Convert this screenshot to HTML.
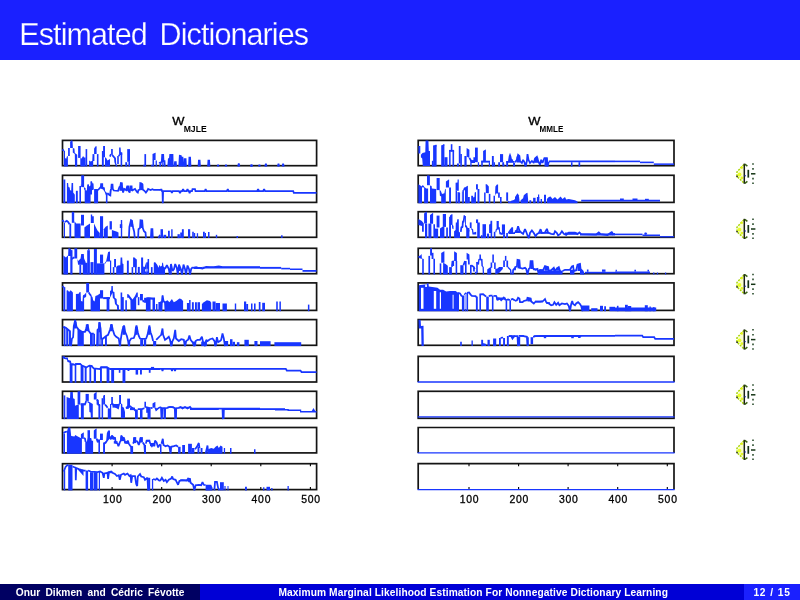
<!DOCTYPE html>
<html lang="en">
<head>
<meta charset="utf-8">
<title>Estimated Dictionaries</title>
<style>
html,body{margin:0;padding:0;background:#fff;}
body{width:800px;height:600px;overflow:hidden;position:relative;font-family:"Liberation Sans",sans-serif;}
#titlebar{position:absolute;left:0;top:0;width:800px;height:59.6px;background:#1a20ff;}
#titlebar h1{position:absolute;left:19.3px;top:16px;margin:0;font-weight:normal;font-size:30.5px;line-height:36px;color:#fff;white-space:nowrap;letter-spacing:-0.9px;word-spacing:5.2px;-webkit-text-stroke:0.25px #1a20ff;}
#foot{position:absolute;left:0;top:583.7px;width:800px;height:16.3px;color:#fff;font-size:10.2px;line-height:17.6px;white-space:nowrap;}
#foot div{position:absolute;top:0;height:16.3px;text-align:center;overflow:hidden;font-weight:bold;}
#foot span{display:inline-block;}
#f1{left:0;width:200px;background:#000062;}
#f2{left:200px;width:544px;background:#0000d6;}
#f3{left:744px;width:56px;background:#1a20ff;}
svg{position:absolute;left:0;top:0;}
svg text{font-family:"Liberation Sans",sans-serif;fill:#000;}
</style>
</head>
<body>
<div id="titlebar"><h1>Estimated Dictionaries</h1></div>

<svg width="800" height="600" viewBox="0 0 800 600">
<text x="172.3" y="124.9" font-size="10.3" stroke="#000" stroke-width="0.3" textLength="12.2" lengthAdjust="spacingAndGlyphs">W</text>
<text x="183.7" y="132" font-size="9.9" font-weight="bold" textLength="23" lengthAdjust="spacingAndGlyphs">MJLE</text>
<text x="528.3" y="124.9" font-size="10.3" stroke="#000" stroke-width="0.3" textLength="12.2" lengthAdjust="spacingAndGlyphs">W</text>
<text x="539.6" y="132" font-size="9.9" font-weight="bold" textLength="23.8" lengthAdjust="spacingAndGlyphs">MMLE</text>
<g fill="none" stroke="#141414" stroke-width="1.7">
<rect x="62.5" y="140.4" width="254.1" height="25.3"/>
<rect x="62.5" y="175.3" width="254.1" height="27.1"/>
<rect x="62.5" y="211.7" width="254.1" height="25.6"/>
<rect x="62.5" y="248.3" width="254.1" height="25.4"/>
<rect x="62.5" y="282.9" width="254.1" height="27.5"/>
<rect x="62.5" y="319.6" width="254.1" height="25.7"/>
<rect x="62.5" y="356.3" width="254.1" height="25.7"/>
<rect x="62.5" y="391.3" width="254.1" height="27"/>
<rect x="62.5" y="427.5" width="254.1" height="25.4"/>
<rect x="62.5" y="463.7" width="254.1" height="25.9"/>
<rect x="418.2" y="140.4" width="255.8" height="25.3"/>
<rect x="418.2" y="175.3" width="255.8" height="27.1"/>
<rect x="418.2" y="211.7" width="255.8" height="25.6"/>
<rect x="418.2" y="248.3" width="255.8" height="25.4"/>
<rect x="418.2" y="282.9" width="255.8" height="27.5"/>
<rect x="418.2" y="319.6" width="255.8" height="25.7"/>
<path d="M418.2,382 V356.3 H674 V382"/>
<rect x="418.2" y="391.3" width="255.8" height="27"/>
<path d="M418.2,452.9 V427.5 H674 V452.9"/>
<path d="M418.2,489.6 V463.7 H674 V489.6"/>
</g>
<g stroke="#000" stroke-width="1.1">
<path d="M112.1,463.7 v2.6 M112.1,489.6 v-2.6"/>
<path d="M161.7,463.7 v2.6 M161.7,489.6 v-2.6"/>
<path d="M211.2,463.7 v2.6 M211.2,489.6 v-2.6"/>
<path d="M260.8,463.7 v2.6 M260.8,489.6 v-2.6"/>
<path d="M310.4,463.7 v2.6 M310.4,489.6 v-2.6"/>
<path d="M469,463.7 v2.6 M469,489.6 v-2.6"/>
<path d="M518.6,463.7 v2.6 M518.6,489.6 v-2.6"/>
<path d="M568.1,463.7 v2.6 M568.1,489.6 v-2.6"/>
<path d="M617.7,463.7 v2.6 M617.7,489.6 v-2.6"/>
<path d="M667.3,463.7 v2.6 M667.3,489.6 v-2.6"/>
</g>
<g fill="none" stroke="#1836ff" stroke-width="1.75" stroke-linejoin="miter" stroke-miterlimit="2">
<path d="M62.5,149.4 L63.9,151"/>
<path d="M110,156.6 L110.9,154.1"/>
<path d="M118.8,156.1 L119.4,154.8"/>
<path d="M159.4,163.5 L160,162.2"/>
<path d="M160,166.5 L160.8,162.5 L161.8,161.6 L162.2,154.8 L163.2,154.8 L163.5,161 L164.5,161 L164.8,166.5 M168.2,166.5 L168.8,159.2 L169.8,159.2 L170.2,154.8 L172.5,154.8 L172.8,166.5 M174.6,166.5 L175,162.2 L175.8,162.2 L176.1,166.5 M179.2,166.5 L179.8,155.8 L180.8,156 L181.2,157.5 L182.5,157.5 L182.8,166.5 M184.2,166.5 L184.6,159.2 L185.6,159.2 L186,166.5 M189,166.5 L189.4,157.6 L190.1,157.6 L190.5,166.5 M198.5,166.5 L198.9,160.5 L199.6,160.5 L200,166.5 M208,166.5 L208.4,160.5 L209.1,160.5 L209.5,166.5 M217.6,166.5 L218.1,164.8 L218.6,166.5 M225.5,166.5 L226,164.8 L226.5,166.5 M238.1,166.5 L238.8,163.5 L239.4,166.5 M251,166.5 L251.5,164.8 L252,166.5"/>
<path d="M251,166.5 L251.5,164.8 L252,166.5 M258.9,166.5 L259.4,164.8 L259.9,166.5 M265.2,166.5 L265.9,163.6 L266.5,166.5 M277.9,166.5 L278.5,163.6 L279.1,166.5 M282.5,166.5 L283.1,163.6 L283.8,166.5"/>
<path d="M80.9,185.6 L81.6,185.4"/>
<path d="M107.5,193.2 L110,195.5"/>
<path d="M110,195.8 L110.6,190.8 L111.2,188.9 L111.6,184.5 L112.5,184.5 L112.8,188.9 L113.8,190.5 L118.1,190.8 L119.4,187 L120.3,186.4 L120.9,183 L121.9,183.2 L122.2,188.2 L123.1,192.6 L124.1,188.9 L126.2,190.1 L127.2,186.4 L128.1,186.4 L128.4,190.8 L129.7,192.6 L130.3,186.4 L131.6,186.4 L131.9,190.8 L133.8,189.5 L135,188.9 L136.9,192 L137.8,192.6 L138.4,190.1 L140,189.5 L140.3,183 L141.2,183.2 L142.5,184.5 L142.8,189.5 L144.4,190.8 L145.9,192.6 L147.2,190.8 L148.1,188.9 L149.4,189.5 L150.6,190.1 L152.5,189.2 L153.8,189.9 L160,189.9"/>
<path d="M160,190.5 L160.8,189.5 L161.5,189.5 L162,191 L162.5,191 L162.8,203.2 L163.1,191 L171,191 L171.9,193 L172.8,191 L179,191 L180,193 L181,191 L182.2,191 L183.1,189.2 L184,191 L186.6,191 L187.5,189.2 L188.4,191 L188.9,191 L189.6,193.2 L190.4,191 L192,191 L192.5,189.2 L195,189.2 L195.5,191 L204.8,191 L205.6,189.2 L206.5,191 L226.9,191 L227.8,189.2 L228.6,191 L257.2,191 L258.1,189.2 L259,191 L260,191"/>
<path d="M260,191 L263.2,191 L264.1,189.2 L265,191 L293.2,191 L293.8,192.8 L316.5,192.8"/>
<path d="M62.5,219.9 L63.9,222"/>
<path d="M65,222 L66.8,220.8 L68.2,222 L69.5,224.2"/>
<path d="M128.9,238.1 L129.4,226.8 L131,220.2 L132,220.8 L132.5,224.5 L133.2,228 L134.2,231.8 L134.8,238.1"/>
<path d="M138.1,238.1 L138.5,229.2 L140,228 L140.5,220.2 L142.2,220.5 L142.8,228 L144,231.2 L145.5,232.5 L146,238.1"/>
<path d="M150.9,238.1 L151.4,229.2 L152.4,229.2 L152.8,238.1"/>
<path d="M158.5,238.1 L160,234.8"/>
<path d="M71.6,259 L74.4,257.2"/>
<path d="M165,269 L166.9,265.2 L168.8,269 L169.8,274.5 L171,264 L172.5,270.9 L174,269 L175.2,264 L176.8,267.8 L177.8,274.5 L179,264.6 L180.8,269 L182,274.5 L183.5,264.6 L185,269 L186,274.5 L187.5,265.5 L189,269 L190,274.5 L191.2,269 L192.8,267.2"/>
<path d="M192.8,267.8 L196.2,267.2 L198.8,268 L202.5,268.5 L206.2,266.8 L210,267.2 L213.8,267 L218.8,266.5 L222.5,267.2 L260,267.2"/>
<path d="M62.5,286.2 L63.8,287.5"/>
<path d="M88.8,292.5 L90,294.6 L91.2,295.9"/>
<path d="M142.8,300.2 L143.8,302.1"/>
<path d="M146.2,298 L155,299"/>
<path d="M161.5,311.2 L161.8,302.8 L162.5,295.5 L163.5,300.9 L165,302.8 L165.5,311.2"/>
<path d="M62.8,327.5 L64.2,327 L66.2,328 L68.2,329.8 L70,331.2 L70.2,346.1"/>
<path d="M71,346.1 L71.9,338.8 L73.1,337.2 L73.8,326.2 L75.2,320 L76.5,326.8 L78.8,329.8 L81.9,331.8 L85,331.8 L86.2,328.5 L87.5,324.2 L88.8,331 L90.6,333.5 L93.8,333.5"/>
<path d="M97,346.1 L97.5,329.8 L98.8,328.5 L99.4,322.2 L100.6,328.5 L101.2,338.5 L103.1,338.5 L106.2,336 L108.1,334.8 L110,329.8 L111.5,324.2 L112.8,329.8 L114.4,334.8 L116.2,336.8 L118.8,338.5 L119.8,346.1"/>
<path d="M120.2,346.1 L120.5,341 L121.5,334.8 L122.5,329.8 L124,325.5 L125.2,332.2 L126.9,336 L128.1,341 L128.8,346.1"/>
<path d="M129.1,346.1 L129.5,341 L131.2,338.5 L133.8,338 L135,334.8 L135.8,328.5 L136.5,325.5 L137.8,332.2 L138.8,336 L140,338.5 L142.5,338.8 L146.2,338.5 L147.5,334.8 L148.5,329.8 L149.4,325.5 L150.5,332.2 L151.9,336 L153.1,341"/>
<path d="M156.2,339.8 L160,336"/>
<path d="M160,336 L161.2,334.8 L162.5,328.5 L163.1,334.8 L165,339.8 L166.9,338.5 L168.8,336.8 L170,339.8 L171.2,346.1 L172.5,341 L173.8,338.5 L175.2,329.8 L176,338.5 L178.8,341 L181.2,339.2 L183.8,339.8 L185,346.1 L186.2,341 L188.1,339.8 L189.4,335.5 L190.6,339.8 L192.5,342.2 L194.4,346.1 L195.6,341 L197.5,339.8 L200,339.8 L201.9,336.8 L203.1,342.2 L205,346.1 L206.2,339.8 L207.5,341 L210,339.2 L212.5,338.5 L214.4,341 L215.6,346.1 L216.9,337.2 L218.1,342.2 L220,341 L221.2,339.8 L222.5,333.5 L223.8,338.5 L225,346.1"/>
<path d="M72.5,364.2 L75,364.8 L76.9,363.9 L80,363.9 L81.9,365.5 L86.2,367.4 L89.4,365.6 L91.2,365.9 L93.8,368.4 L100,369 L101.2,367.2 L106.9,367.2 L109.4,368.9 L110,369"/>
<path d="M160,368.8 L161.8,368.8 L162.5,371 L163.2,368.8 L171.2,368.8 L172,371 L172.8,368.8 L174.2,368.8 L175,371 L175.8,368.8 L260,368.8"/>
<path d="M260,368.8 L285.8,368.8 L286.8,370.5 L300.5,370.5 L301.5,372 L316.5,372"/>
<path d="M85,404.6 L86.2,400.9"/>
<path d="M96.6,399.6 L97.9,400.5 L98.2,404.6 L99.8,405.1"/>
<path d="M105,404.5 L106.2,405.8 L107.6,407.8"/>
<path d="M111.2,404.1 L112.8,404.1 L113.8,405.8 L116.2,407 L118.1,408.2 L118.8,405.1 L119.4,404"/>
<path d="M125.9,407.8 L127.5,407.1 L127.9,405.8"/>
<path d="M130,405.9 L131.2,407.1 L133.8,408.9 L135.6,410.8 L136.2,412"/>
<path d="M137.8,409 L141.2,409 L142.5,408.9 L144.4,408.2"/>
<path d="M145.9,407.1 L148.8,407.8"/>
<path d="M150.6,408.2 L152.5,407.8"/>
<path d="M155.3,407.8 L156.2,410.1 L157.5,408.9 L160,407.1"/>
<path d="M160,407 L161,407.8 L161.5,419.1 M162,419.1 L162.2,408.2 L164.2,408.2 L164.5,419.1 M165,419.1 L165.2,408.2 L167.5,407.8 L170,406.8 L172.5,407.2 L174.8,408.2 L175.2,419.1 M176,419.1 L176.2,408.2 L178.8,407.8 L180.6,407 L182.5,408.5 L185,407 L187.5,408.5 L190,407 L191.2,408.5 L222.5,408.5 L222.9,419.1 M223.6,419.1 L223.9,408.5 L260,408.5"/>
<path d="M312.5,411.5 L313.5,409.8 L314.5,411.5"/>
<path d="M63.4,433 L65,432.1 L66.9,431.5"/>
<path d="M83.8,438 L85,438.6 L85.6,441.8"/>
<path d="M96.6,438.6 L97.5,441.1 L98.5,441.8"/>
<path d="M110,439.2 L111.2,438 L111.9,435.5 L112.8,436.8 L113.8,438.6 L115,437.4 L115.6,442.4 L117.5,443.6 L118.4,446.1 L119.4,443.6 L120,441.8 L120.9,440.5 L121.2,435.5 L122.5,437.4 L124.4,439.2 L125,442.4 L126.9,443 L127.8,440.5 L128.8,443.6 L130,445.5 L131.2,446.8 L131.6,453.7"/>
<path d="M133.1,443.6 L133.8,441.8 L134.1,437.5"/>
<path d="M136.2,440.6 L137.5,441.8 L138.8,444.9 L139.7,442.4 L140.4,437.5"/>
<path d="M142.8,442.5 L144.4,444.9 L145,453.7"/>
<path d="M145.9,443.6 L146.6,440.6 L149.4,440.6 L150,443 L151.9,446.1 L153.1,444.2 L154.4,446.1 L155,440.6 L156.6,442.4 L158.1,447.4 L160,444.2"/>
<path d="M161.5,443.8 L162.8,438.8 L163.5,445 L165.6,446.2 L167.5,445.5 L169.4,446.8 L170.6,453.7 L171.2,446.8 L173.8,446.2 L176.2,445.5 L178.1,446.8"/>
<path d="M195,449.2 L196.9,446.8 L198.8,443 L199.5,448"/>
<path d="M205.6,453.7 L207.5,445.5 L208.2,453.7"/>
<path d="M63.8,471.5 L65.6,466.8 L67.5,465.2 L68.2,464.8"/>
<path d="M72.5,466.5 L74.4,467.2 L75.6,467.8 L75.8,480.2 L76.2,468 L78.8,469 L81.2,469.8 L83.8,470.5 L85.6,470.5"/>
<path d="M88.1,470.5 L90.6,471.5 L97.5,472 L100,471.5 L102.5,472.8 L103.8,477.8 L104.4,473.5 L107.5,472.8 L108.1,479 L109,472.2 L111.2,471.5 L112.5,472.8 L115,474 L116.9,476 L118.8,475.2 L119.8,479.8 L121,474.8 L123.8,473.5 L125,474.8 L127.5,473.5 L129.4,476 L130.6,475.2 L131.2,482.8 L132.2,476 L135,476 L136.2,484 L137.2,486 L137.8,476.5 L140,474 L141.2,476.5 L143.8,477.2 L145,479.8 L147.5,477.8 L148.1,490.4"/>
<path d="M153.1,479 L155.6,479.8 L156.9,478.5 L158.8,480.2 L160,481"/>
<path d="M160,481 L161.9,477.8 L163.8,481 L165.6,479.8 L166.9,482.2 L168.8,479.8 L171.2,478.5 L172.2,476.5 L173.1,479 L175.6,479.8 L178.1,484.8 L179.4,481 L181.9,480.2 L186.9,480.5 L188.1,478.5 L190,479 L190.6,482.8 L193.1,484.8 L194.4,490.4 L195.6,485.2 L198.8,484.8 L201.2,485.2 L202.5,482.2 L203.8,484.8 L205.6,485.2"/>
<path d="M214.4,490.4 L215,481.8 L216.9,481.8 L218.1,487.8 L219.4,490.4"/>
<path d="M469.4,157.9 L471.2,161 L473.1,162.2"/>
<path d="M515,162.2 L516.9,159.8 L518.1,154.8 L519.4,156 L520,161 L521.9,163 L523.1,159.8 L524.4,162.2 L525.6,166.5 L526.9,161 L527.5,154.2 L528.5,159.8 L530,163 L531.9,161 L533.8,163 L535,158.5 L536.9,156.8 L538.1,161 L540,164.8 L541.2,159.8 L542.5,163 L544.4,158 L546.9,158 L547.5,166.5 L548.8,161.8"/>
<path d="M421.9,186.1 L423.9,186.8"/>
<path d="M463.9,190.1 L465,187.6"/>
<path d="M460.8,231.8 L461.4,227.4 L462.5,226.8 L462.9,221.9 L463.8,220.5 L464.4,216.2 L465,216.2"/>
<path d="M515,231.8 L516.9,230.5 L518.1,226.2 L519.4,230.5 L521.2,232.5 L523.1,233.8 L525,229.2 L526.2,231.8 L527.5,235.5 L528.8,238.1 L530,233 L531.9,230.5 L533.8,233 L535.6,236.2 L536.9,234.2 L538.8,233 L540.6,229.2 L541.9,233 L545,232.5 L546.9,228.8 L548.1,232.5 L551.2,233.8 L553.8,234.2 L555,231.2 L556.9,233 L558.1,235.5 L560,234.2 L561.9,231.2 L563.8,233.8 L566.2,235 L568.8,232.5 L575,232.5 L577.5,234.2 L579.4,232.5 L581.2,234.2 L596.2,234.5 L598.8,232.5 L600.6,234.2 L607.5,235 L611.2,232.5 L612.5,234.2 L615,233.8"/>
<path d="M611,233.8 L611.9,231.8 L612.8,233.8"/>
<path d="M644.8,234.5 L645.6,232.8 L646.5,234.5"/>
<path d="M451.9,266.9 L452.5,261"/>
<path d="M463.5,265.2 L465,261"/>
<path d="M470,265.9 L471.9,265.6 L473.8,267.1 L474.7,269"/>
<path d="M512.8,274.5 L513.1,270.2 L515,267.8"/>
<path d="M515,270.2 L515.2,267.2 L516.9,266.5 L517.5,259.8 L519.4,260.2 L520,267.8 L522.5,268.5 L525,267.8 L526.2,269 L527.5,274.5 L528.8,269 L530,267.8 L530.6,261 L532.5,261 L533.1,268.5 L535.6,269.8 L537.5,269 L538.8,274.5"/>
<path d="M538.1,271.5 L540,269.8 L543.1,270.2 L545,266 L548.1,267.2 L548.8,271 L551.2,270.2 L553.8,267.8 L555,271 L556.9,268.5 L558.8,267.2 L560,271 L562.5,272.2"/>
<path d="M562.5,271 L565,269.8 L570,269.8 L571.9,266.5 L573.1,266 L573.8,271 L576.2,270.2 L577.5,264.8 L580,264 L580.6,269 L582.5,271 L583.8,274.5"/>
<path d="M458.1,292.8 L460,293.5 L461.9,296.5"/>
<path d="M464.4,294.8 L466.2,292.8"/>
<path d="M466.9,292.9 L469.1,292.5 L470.6,294.6 L471.9,295.9 L475.6,296.2 L476.4,297.1"/>
<path d="M479.5,294.4 L483.1,294.1 L484.4,295.2 L486.2,296.6"/>
<path d="M488.8,296.2 L490,295.6 L492.5,295.6"/>
<path d="M493.4,296 L495,295.9 L496.2,296 L496.9,297.8 L497.5,300.2 L498.8,298.4 L500,299 L501.2,300.2 L502.5,299 L503.8,297.5 L505,299 L505.8,300.4"/>
<path d="M506.2,300 L508.1,299.4 L509.8,300.1"/>
<path d="M510.9,299.6 L512.5,299 L515,300.6"/>
<path d="M515,301 L516.9,300.2 L518.1,297.8 L519.4,298.5 L520,302.2 L522.5,302.2 L523.8,301 L526.9,300.2 L527.5,297.8 L530.6,298.5 L531.2,301.5 L533.8,303.5 L535.6,301.5 L540,301.5 L543.1,301 L545,299 L546.2,302.2 L548.8,303.5 L551.2,305.2 L553.1,304.8 L554.4,302.2 L556.2,304.8 L558.1,302.8 L559.4,305.2 L561.9,303.5 L565,304 L566.9,303.5 L568.8,306 L570,311.2 L571.2,304 L572.2,301 L573.1,304 L575,305.2 L576.2,303.5 L578.1,302.2 L580,304 L581.2,306 L582.5,311.2"/>
<path d="M500.6,337.8 L503.1,337.5"/>
<path d="M508.8,336 L511.2,336 L512.5,338.5 L513.8,336.8 L515,336"/>
<path d="M515,336 L517.5,336 L518,346.1"/>
<path d="M520.2,336 L522.5,335.8 L526.9,336.8 L527.5,346.1"/>
<path d="M533.1,336.8 L536.2,336 L541.2,335.8 L615,335.8"/>
<path d="M615,335.6 L642.2,335.6 L643.2,337.2 L654.2,337.2 L655.2,338.9 L674,338.9"/>
</g>
<g fill="#1836ff" stroke="none">
<path d="M63.9,151 L65,151 L65,166.5 L63.9,166.5 Z"/>
<path d="M68.1,147.9 L69.8,147.9 L69.8,156.1 L68.1,156.1 Z"/>
<path d="M85.6,149.1 L87.2,149.1 L87.2,166.5 L85.6,166.5 Z"/>
<path d="M96.9,154.1 L98.5,154.1 L98.5,166.5 L96.9,166.5 Z"/>
<path d="M101.9,151 L103.8,151 L103.8,166.5 L101.9,166.5 Z"/>
<path d="M65,166.5 L65,157.9 L66.2,158.8 L66.9,156.6 L67.9,156 L67.9,166.5 Z"/>
<path d="M70.1,142.2 L70.9,140.4 L72.5,140.4 L72.9,147.9 L70.1,147.9 Z"/>
<path d="M72.8,147.9 L74.4,148.5 L74.8,152.9 L76.2,154.1 L77.2,154.8 L77.2,166.5 L75,166.5 L74.8,154.1 L72.8,152.4 Z"/>
<path d="M78.1,146 L80.6,146 L80.6,157.9 L78.1,157.9 Z"/>
<path d="M80.3,166.5 L80.3,157.9 L81.6,158.5 L83.1,156 L84.1,157.6 L85.6,157.6 L85.6,166.5 Z"/>
<path d="M89.1,166.5 L89.1,160.4 L90.6,161.6 L92.5,160.8 L93.1,154.8 L93.2,154.8 L93.2,166.5 Z"/>
<path d="M92.5,154.1 L94.4,154.1 L94.4,161 L92.5,161 Z"/>
<path d="M94.1,148.5 L95.6,146.3 L96.6,146.3 L96.6,154.1 L94.1,154.1 Z"/>
<path d="M103.1,146 L105,146 L105,157.2 L103.1,157.2 Z"/>
<path d="M105,166.5 L105,157.2 L106.2,157.9 L107.5,160.4 L110,159.1 L110,166.5 Z"/>
<path d="M111.1,149.1 L112.8,149.1 L112.8,154.8 L111.1,154.8 Z"/>
<path d="M117.2,156 L118.8,156 L118.8,164.1 L117.2,164.1 Z"/>
<path d="M120.6,152.6 L122.2,152.6 L122.2,166.5 L120.6,166.5 Z"/>
<path d="M125.3,162.2 L127.2,162.2 L127.2,166.5 L125.3,166.5 Z"/>
<path d="M128.4,161.6 L130,161.6 L130,166.5 L128.4,166.5 Z"/>
<path d="M143.4,164.8 L144.5,164.8 L144.5,166.5 L143.4,166.5 Z"/>
<path d="M144.4,154.1 L146.1,154.1 L146.1,166.5 L144.4,166.5 Z"/>
<path d="M151.2,164.8 L152.6,164.8 L152.6,166.5 L151.2,166.5 Z"/>
<path d="M152.5,159.8 L154.1,159.8 L154.1,166.5 L152.5,166.5 Z"/>
<path d="M155.6,160.4 L156.9,160.4 L156.9,166.5 L155.6,166.5 Z"/>
<path d="M112.5,154.1 L115.9,157.9 L116.2,163.5 L117.5,166.5 L115.9,166.5 L114.4,162.2 L114.1,158.5 L111.9,156 Z"/>
<path d="M119.1,147.6 L120.6,147.6 L120.9,152.2 L122.2,152.6 L122.2,154.9 L119.1,154.9 Z"/>
<path d="M127.2,149.1 L130,149.1 L130,161.8 L127.2,161.8 Z"/>
<path d="M152.5,154.1 L155.3,152.8 L155.6,152.8 L155.6,159.9 L152.5,159.9 Z"/>
<path d="M162.2,155 L163.5,155 L163.5,166.5 L162.2,166.5 Z"/>
<path d="M168.8,159.5 L172.6,159.5 L172.6,166.5 L168.8,166.5 Z"/>
<path d="M170.2,155 L172.6,155 L172.6,166.5 L170.2,166.5 Z"/>
<path d="M179.8,157.8 L182.6,157.8 L182.6,166.5 L179.8,166.5 Z"/>
<path d="M184.5,159.5 L185.9,159.5 L185.9,166.5 L184.5,166.5 Z"/>
<path d="M189.4,157.9 L190.4,157.9 L190.4,166.5 L189.4,166.5 Z"/>
<path d="M63.4,179.5 L65.3,179.5 L65.3,203.2 L63.4,203.2 Z"/>
<path d="M75.9,190.8 L77.8,190.8 L77.8,203.2 L75.9,203.2 Z"/>
<path d="M79.4,186.1 L81,186.1 L81,203.2 L79.4,203.2 Z"/>
<path d="M66.9,203.2 L66.9,182.9 L68.1,182.9 L68.5,187 L69.7,187.6 L70,190.1 L71.2,190.8 L71.6,182.9 L73.1,182.9 L73.2,192.6 L74.7,194.5 L74.8,195.1 L74.8,203.2 Z"/>
<path d="M81.2,175.3 L84.1,175.3 L84.1,187.1 L81.2,187.1 Z"/>
<path d="M83.8,187 L85.6,188.2 L85.6,190.8 L84.1,189.6 Z"/>
<path d="M84.7,203.2 L84.7,190.1 L86.9,190.4 L87.2,184.5 L88.9,184.2 L89.1,186.4 L90.4,185.4 L90.6,181.4 L92,181.4 L92,194.5 L90.6,194.6 L90.6,203.2 Z"/>
<path d="M90.6,181.4 L92,181.4 L92.5,183.2 L93.5,183.6 L93.8,189.6 L92,190.2 Z"/>
<path d="M94.1,203.2 L94.1,188.9 L97.5,188.9 L98.1,189.6 L98.1,203.2 Z"/>
<path d="M97.5,189.6 L100,186.4 L100.3,183.2 L103.1,183.2 L103.2,187 L104.8,187.6 L105,190.8 L106.2,192.6 L107.5,192.8 L107.5,195.2 L105.9,195.2 L104.7,192 L103.1,189.6 L100.6,188.4 L98.4,190.8 Z"/>
<path d="M105.9,193.2 L107.5,193.2 L107.5,203.2 L105.9,203.2 Z"/>
<path d="M110,188.9 L111.2,188.9 L111.2,196.5 L110,196.5 Z"/>
<path d="M119.4,186.5 L122.5,186.5 L122.5,190.8 L119.4,190.8 Z"/>
<path d="M126.6,186.5 L128.4,186.5 L128.4,190.8 L126.6,190.8 Z"/>
<path d="M130.1,186.5 L131.8,186.5 L131.8,190.8 L130.1,190.8 Z"/>
<path d="M140.2,183.4 L142.6,183.4 L142.6,190.1 L140.2,190.1 Z"/>
<path d="M63.9,222.4 L65,222.4 L65,238.1 L63.9,238.1 Z"/>
<path d="M69.4,223.6 L71.2,223.6 L71.2,238.1 L69.4,238.1 Z"/>
<path d="M100,216.2 L103.1,216.2 L103.1,238.1 L100,238.1 Z"/>
<path d="M71.8,212 L74.2,212 L74.2,222.8 L71.8,222.8 Z"/>
<path d="M72,211.8 L73.5,211.8 L73.5,213 L72,213 Z"/>
<path d="M74.5,238.1 L74.5,221.2 L76.2,223.6 L80.6,223.6 L80.6,238.1 Z"/>
<path d="M81,214.8 L84,214.8 L84,225.5 L81,225.5 Z"/>
<path d="M84.4,238.1 L84.4,227.4 L86.9,225.5 L90,223.6 L90,238.1 Z"/>
<path d="M90.8,214.5 L92.2,214.5 L92.2,223 L90.8,223 Z"/>
<path d="M92,216.2 L93.8,216.2 L93.8,223 L92,223 Z"/>
<path d="M94,238.1 L94,223.6 L95.6,226.8 L97.5,230.5 L99.8,233 L99.8,238.1 Z"/>
<path d="M103.8,238.1 L103.8,229.2 L105.6,226.8 L107.8,225.5 L107.8,238.1 Z"/>
<path d="M109.6,221.2 L111.9,221.2 L111.9,229.5 L109.6,229.5 Z"/>
<path d="M111.9,238.1 L111.9,230 L115.6,231.2 L118.5,232.5 L118.5,238.1 Z"/>
<path d="M119.8,224.2 L122.2,224.2 L122.2,228 L119.8,228 Z"/>
<path d="M120.8,220 L122.2,220 L122.2,238.1 L120.8,238.1 Z"/>
<path d="M130.2,220.2 L132.2,220.2 L132.2,226.8 L130.2,226.8 Z"/>
<path d="M140.4,220.2 L142.5,220.2 L142.5,228 L140.4,228 Z"/>
<path d="M151.2,229.5 L152.5,229.5 L152.5,238.1 L151.2,238.1 Z"/>
<path d="M160.5,229.2 L163,229.2 L163,238.1 L160.5,238.1 Z"/>
<path d="M163.5,234.8 L166.2,234.8 L166.2,238.1 L163.5,238.1 Z"/>
<path d="M168,230.8 L169.8,230.8 L169.8,238.1 L168,238.1 Z"/>
<path d="M171.2,229.2 L172.6,229.2 L172.6,238.1 L171.2,238.1 Z"/>
<path d="M177.5,234.2 L179.8,234.2 L179.8,238.1 L177.5,238.1 Z"/>
<path d="M180.2,232.5 L182,232.5 L182,238.1 L180.2,238.1 Z"/>
<path d="M181.9,229.2 L183.8,229.2 L183.8,238.1 L181.9,238.1 Z"/>
<path d="M188,229.2 L190.2,229.2 L190.2,238.1 L188,238.1 Z"/>
<path d="M192.2,231.8 L193.8,231.8 L193.8,238.1 L192.2,238.1 Z"/>
<path d="M193.8,233 L195.2,233 L195.2,238.1 L193.8,238.1 Z"/>
<path d="M196.8,233.2 L198.1,233.2 L198.1,238.1 L196.8,238.1 Z"/>
<path d="M203,231.8 L204.8,231.8 L204.8,238.1 L203,238.1 Z"/>
<path d="M204.8,233 L206,233 L206,238.1 L204.8,238.1 Z"/>
<path d="M208,232 L209.5,232 L209.5,238.1 L208,238.1 Z"/>
<path d="M215.8,234.8 L217.2,234.8 L217.2,238.1 L215.8,238.1 Z"/>
<path d="M236.5,236 L238,236 L238,238.1 L236.5,238.1 Z"/>
<path d="M281.1,235.2 L282.6,235.2 L282.6,238.1 L281.1,238.1 Z"/>
<path d="M63.4,274.5 L63.4,255.6 L65.9,257.4 L67.8,255.6 L68,255.9 L68,274.5 Z"/>
<path d="M68.1,255.9 L68.4,248.3 L70,248.3 L71.6,250.2 L71.6,255.9 Z"/>
<path d="M70.3,250.2 L72.5,250.2 L72.5,274.5 L70.3,274.5 Z"/>
<path d="M79.4,264.6 L81.2,264.6 L81.2,274.5 L79.4,274.5 Z"/>
<path d="M90.5,262.1 L93.5,262.1 L93.5,274.5 L90.5,274.5 Z"/>
<path d="M74.4,248.3 L77.2,248.3 L77.2,258.5 L74.4,258.5 Z"/>
<path d="M87.2,250.2 L89.9,250.2 L89.9,274.5 L87.2,274.5 Z"/>
<path d="M88.1,249 L89.4,249 L89.4,250.2 L88.1,250.2 Z"/>
<path d="M93.9,249 L96.9,249 L96.9,274.5 L93.9,274.5 Z"/>
<path d="M77.2,258.4 L78.1,260.9 L80.6,258.4 L81.2,254 L83.8,254 L84.1,258.4 L85.6,262.1 L85.6,264.8 L78.1,264.8 Z"/>
<path d="M82.8,274.5 L82.8,262.8 L87.5,262.8 L87.5,274.5 Z"/>
<path d="M96.6,274.5 L96.6,263.4 L104.4,263.4 L104.4,274.5 Z"/>
<path d="M100,254.6 L103.1,254.6 L103.1,263.5 L100,263.5 Z"/>
<path d="M104.4,263.4 L106.2,260.9 L108.1,252.1 L110,251.5 L110,261.6 L106.6,261.6 L105,264 Z"/>
<path d="M110,260.6 L111.2,260.6 L111.2,274.5 L110,274.5 Z"/>
<path d="M112.8,267.1 L114.4,267.1 L114.4,274.5 L112.8,274.5 Z"/>
<path d="M114.1,259 L116,259 L116,267.2 L114.1,267.2 Z"/>
<path d="M126.9,260.6 L128.8,260.6 L128.8,274.5 L126.9,274.5 Z"/>
<path d="M131.6,267.1 L133.2,267.1 L133.2,274.5 L131.6,274.5 Z"/>
<path d="M135,259.6 L136.6,259.6 L136.6,274.5 L135,274.5 Z"/>
<path d="M137.8,266.9 L139.8,266.9 L139.8,274.5 L137.8,274.5 Z"/>
<path d="M141.1,257.5 L143.1,257.5 L143.1,274.5 L141.1,274.5 Z"/>
<path d="M150.9,267.1 L152.6,267.1 L152.6,274.5 L150.9,274.5 Z"/>
<path d="M116.2,274.5 L116.2,267.1 L117.8,265.6 L120.3,265.2 L120.6,257.5 L122.2,257.5 L122.5,263.4 L123.4,264 L123.5,264.6 L123.5,274.5 Z"/>
<path d="M133.1,257.5 L134.1,257.2 L135,258.1 L136.6,259.6 L136.6,267.2 L133.1,267.2 Z"/>
<path d="M143.1,274.5 L143.1,266.5 L144.7,267.1 L146,262.8 L146.2,262.5 L146.2,274.5 Z"/>
<path d="M146.2,262.5 L147.5,262.2 L147.6,259 L149.1,259 L149.1,274.5 L146.2,274.5 Z"/>
<path d="M153.8,274.5 L153.8,262.8 L155,262.1 L156.6,264 L157.5,265.2 L158.4,267.8 L159.4,265.2 L160,265.2 L160,274.5 Z"/>
<path d="M160,274.5 L160,266.5 L161.8,266 L162.2,262.8 L163,262.8 L163.5,266.5 L165,267.8 L165,274.5 Z"/>
<path d="M170.5,265.2 L171.8,265.2 L171.8,274.5 L170.5,274.5 Z"/>
<path d="M178.8,265.2 L180,265.2 L180,270.9 L178.8,270.9 Z"/>
<path d="M193.8,267 L202.5,267 L202.5,269 L193.8,269 Z"/>
<path d="M202.5,266.8 L260,266.8 L260,268.6 L202.5,268.6 Z"/>
<path d="M260,266.9 L281.2,266.9 L281.2,268.8 L260,268.8 Z"/>
<path d="M281.2,267.8 L290,267.8 L290,269.4 L281.2,269.4 Z"/>
<path d="M290,268.5 L302.5,268.5 L302.5,270 L290,270 Z"/>
<path d="M302.5,270 L316.5,270 L316.5,271.8 L302.5,271.8 Z"/>
<path d="M63.4,287.1 L65.3,287.1 L65.3,311.2 L63.4,311.2 Z"/>
<path d="M66.6,311.2 L66.6,290.6 L67.8,290.2 L69.1,291.9 L70.6,290.2 L72.5,292.1 L72.9,292.8 L72.9,311.2 Z"/>
<path d="M75.9,311.2 L75.9,294 L78.8,293.8 L79.1,292.5 L80.6,292.1 L81,300.9 L82.5,301.5 L82.9,295.9 L84.1,294.6 L84.1,311.2 Z"/>
<path d="M82.8,295.9 L85,294 L86.2,292.5 L86.2,296.5 L85,297.8 L83.8,297.8 Z"/>
<path d="M86.2,282.9 L89.1,282.9 L89.1,292.5 L86.2,292.5 Z"/>
<path d="M90.6,311.2 L90.6,295.2 L92.5,297.1 L93.1,300.2 L94.7,301.5 L95.4,295.9 L97.5,295.2 L100,293.4 L100,311.2 Z"/>
<path d="M100,290.2 L103.1,290.2 L103.1,298.5 L100,298.5 Z"/>
<path d="M106.6,297.1 L109.4,297.1 L109.4,311.2 L106.6,311.2 Z"/>
<path d="M103.1,297.1 L110,297.1 L110,299.1 L103.1,299.1 Z"/>
<path d="M110,290.9 L111.2,290.2 L111.4,285.9 L112.8,285.9 L113,291.5 L114.4,292.1 L114.8,297.8 L116.6,299 L116.9,304 L118.8,305.2 L119.1,310.2 L117.2,310.2 L116.9,305.9 L115,304 L114.4,299.6 L112.8,297.8 L112.5,292.8 L110,297.8 Z"/>
<path d="M120.6,292.5 L122.2,292.5 L122.2,311.2 L120.6,311.2 Z"/>
<path d="M121.9,297.1 L123.8,297.1 L123.8,311.2 L121.9,311.2 Z"/>
<path d="M125.3,300.2 L126.9,300.2 L126.9,311.2 L125.3,311.2 Z"/>
<path d="M137.8,297.1 L139.4,297.1 L139.4,305.2 L137.8,305.2 Z"/>
<path d="M140,294 L142.9,294 L142.9,300.4 L140,300.4 Z"/>
<path d="M144.1,297.8 L146.2,297.8 L146.2,302.8 L144.1,302.8 Z"/>
<path d="M152.5,298.5 L155,298.5 L155,311.2 L152.5,311.2 Z"/>
<path d="M155.9,304 L157.5,304 L157.5,311.2 L155.9,311.2 Z"/>
<path d="M158.4,302.1 L160,302.1 L160,311.2 L158.4,311.2 Z"/>
<path d="M127.2,294 L128.8,294.4 L130.6,297.1 L132.5,299.6 L135,295.9 L136.6,292.5 L137.8,292.5 L137.8,297.1 L136.2,297.8 L136.2,310.2 L130.6,310.2 L130.4,300.2 L128.8,297.8 L127.2,297.8 Z"/>
<path d="M145.9,311.2 L145.9,298.4 L147.5,297.8 L150.6,297.8 L150.6,311.2 Z"/>
<path d="M147.5,297.5 L155,297.5 L155,299.4 L147.5,299.4 Z"/>
<path d="M160,301.5 L161.2,301.5 L161.2,311.2 L160,311.2 Z"/>
<path d="M162,295.5 L163.2,295.5 L163.2,302.8 L162,302.8 Z"/>
<path d="M165,311.2 L165,301.5 L167.5,300.2 L169.4,302.2 L171.9,299 L173.8,302.2 L176.2,301 L179.4,298.5 L181.2,299 L183.1,301 L183.1,311.2 Z"/>
<path d="M186.9,303 L189.4,303 L189.4,311.2 L186.9,311.2 Z"/>
<path d="M189.1,300 L190.6,300 L190.6,311.2 L189.1,311.2 Z"/>
<path d="M191.9,302.2 L193.8,302.2 L193.8,311.2 L191.9,311.2 Z"/>
<path d="M195,302.2 L196.9,302.2 L196.9,311.2 L195,311.2 Z"/>
<path d="M197.5,302.2 L200,302.2 L200,311.2 L197.5,311.2 Z"/>
<path d="M201.9,311.2 L201.9,304 L203.8,302.2 L206.9,300.2 L210,301 L211.2,302.8 L211.2,311.2 Z"/>
<path d="M212.5,301.5 L215.6,301.5 L215.6,311.2 L212.5,311.2 Z"/>
<path d="M215.6,303 L220,303 L220,311.2 L215.6,311.2 Z"/>
<path d="M222.5,303.5 L226.9,303.5 L226.9,311.2 L222.5,311.2 Z"/>
<path d="M234.8,303.5 L236.2,303.5 L236.2,311.2 L234.8,311.2 Z"/>
<path d="M244,301.5 L246.2,301.5 L246.2,311.2 L244,311.2 Z"/>
<path d="M246.2,304 L248.1,304 L248.1,311.2 L246.2,311.2 Z"/>
<path d="M251,303.5 L252.5,303.5 L252.5,311.2 L251,311.2 Z"/>
<path d="M254,303.5 L255.6,303.5 L255.6,311.2 L254,311.2 Z"/>
<path d="M258.8,302 L260,302 L260,311.2 L258.8,311.2 Z"/>
<path d="M260,302 L260.5,302 L260.5,311.2 L260,311.2 Z"/>
<path d="M262.2,302.8 L265,302.8 L265,311.2 L262.2,311.2 Z"/>
<path d="M276.2,301.5 L277.8,301.5 L277.8,311.2 L276.2,311.2 Z"/>
<path d="M279.4,301.5 L280.9,301.5 L280.9,311.2 L279.4,311.2 Z"/>
<path d="M307.9,304.6 L309.4,304.6 L309.4,311.2 L307.9,311.2 Z"/>
<path d="M63.8,327.2 L65.5,327.2 L65.5,346.1 L63.8,346.1 Z"/>
<path d="M66.2,328.5 L68.2,328.5 L68.2,346.1 L66.2,346.1 Z"/>
<path d="M68.8,330.5 L70,330.5 L70,346.1 L68.8,346.1 Z"/>
<path d="M74,322 L76.4,322 L76.4,328.5 L74,328.5 Z"/>
<path d="M85.8,324.5 L88.5,324.5 L88.5,331.2 L85.8,331.2 Z"/>
<path d="M77.5,346.1 L77.5,328.8 L80,331 L83.8,332.2 L83.8,346.1 Z"/>
<path d="M90,333.8 L92.8,333.8 L92.8,346.1 L90,346.1 Z"/>
<path d="M93.2,333.8 L95,333.8 L95,346.1 L93.2,346.1 Z"/>
<path d="M97.2,330 L98.8,330 L98.8,346.1 L97.2,346.1 Z"/>
<path d="M98.5,322.5 L100.6,322.5 L100.6,332.5 L98.5,332.5 Z"/>
<path d="M99.4,332.2 L100.6,332.2 L100.6,346.1 L99.4,346.1 Z"/>
<path d="M101.2,338.8 L103,338.8 L103,346.1 L101.2,346.1 Z"/>
<path d="M105,336.2 L106.9,336.2 L106.9,346.1 L105,346.1 Z"/>
<path d="M110,324.5 L112.6,324.5 L112.6,331.2 L110,331.2 Z"/>
<path d="M122.5,326 L125.1,326 L125.1,334.8 L122.5,334.8 Z"/>
<path d="M135,326.8 L137.6,326.8 L137.6,334.8 L135,334.8 Z"/>
<path d="M140.2,339.2 L143,339.2 L143,346.1 L140.2,346.1 Z"/>
<path d="M143.8,339.2 L146.2,339.2 L146.2,346.1 L143.8,346.1 Z"/>
<path d="M148.1,326.8 L150.4,326.8 L150.4,334.8 L148.1,334.8 Z"/>
<path d="M153.1,341 L156.2,341 L156.2,346.1 L153.1,346.1 Z"/>
<path d="M170.2,341 L172.5,341 L172.5,346.1 L170.2,346.1 Z"/>
<path d="M183.8,341 L186.2,341 L186.2,346.1 L183.8,346.1 Z"/>
<path d="M192.8,341.6 L196.2,341.6 L196.2,346.1 L192.8,346.1 Z"/>
<path d="M201.2,341.6 L206.9,341.6 L206.9,346.1 L201.2,346.1 Z"/>
<path d="M214,341.6 L216.5,341.6 L216.5,346.1 L214,346.1 Z"/>
<path d="M224.4,341 L228.1,341 L228.1,346.1 L224.4,346.1 Z"/>
<path d="M230,339.2 L232.5,339.2 L232.5,346.1 L230,346.1 Z"/>
<path d="M232.5,341.8 L235,341.8 L235,346.1 L232.5,346.1 Z"/>
<path d="M236.9,342.2 L239.4,342.2 L239.4,346.1 L236.9,346.1 Z"/>
<path d="M244.4,339.8 L248.8,339.8 L248.8,346.1 L244.4,346.1 Z"/>
<path d="M254.4,341 L257.5,341 L257.5,346.1 L254.4,346.1 Z"/>
<path d="M260,341.2 L270.6,341.2 L270.6,346.1 L260,346.1 Z"/>
<path d="M274.4,342.2 L301.2,342.2 L301.2,346.1 L274.4,346.1 Z"/>
<path d="M62.5,356.3 L64.7,356.3 L65.1,357.4 L67.8,357.6 L68.2,360.1 L70.9,360.8 L71.4,363.2 L73.4,363.6 L73.4,365.5 L70,365.2 L69.4,362.6 L67.5,362 L66.9,359.5 L64.4,358.9 L62.5,358.2 Z"/>
<path d="M69.7,363.9 L72.5,363.9 L72.5,382.8 L69.7,382.8 Z"/>
<path d="M74.7,364.5 L76.3,364.5 L76.3,382.8 L74.7,382.8 Z"/>
<path d="M80.6,365.8 L83.5,365.8 L83.5,382.8 L80.6,382.8 Z"/>
<path d="M84.7,367 L86.6,367 L86.6,382.8 L84.7,382.8 Z"/>
<path d="M89.4,365.8 L91.2,365.8 L91.2,382.8 L89.4,382.8 Z"/>
<path d="M93.8,368.9 L96,368.9 L96,382.8 L93.8,382.8 Z"/>
<path d="M100,368.2 L101.9,368.2 L101.9,382.8 L100,382.8 Z"/>
<path d="M106.6,367.6 L109.4,367.6 L109.4,382.8 L106.6,382.8 Z"/>
<path d="M75,363.2 L80.6,363.2 L80.6,364.9 L75,364.9 Z"/>
<path d="M100,366.8 L107.5,366.8 L107.5,368.4 L100,368.4 Z"/>
<path d="M89.4,365.2 L92.5,365.2 L92.5,367 L89.4,367 Z"/>
<path d="M110,368 L160,368 L160,370 L110,370 Z"/>
<path d="M111.2,368.9 L114.1,368.9 L114.1,382.8 L111.2,382.8 Z"/>
<path d="M122.5,368.9 L125.4,368.9 L125.4,382.8 L122.5,382.8 Z"/>
<path d="M118.8,368.9 L120.4,368.9 L120.4,372.8 L118.8,372.8 Z"/>
<path d="M127.5,369.5 L129.4,369.5 L129.4,371 L127.5,371 Z"/>
<path d="M135.6,369.5 L138.1,369.5 L138.1,374.6 L135.6,374.6 Z"/>
<path d="M140,369.5 L141.9,369.5 L141.9,374.6 L140,374.6 Z"/>
<path d="M148.8,369.5 L150.6,369.5 L150.6,372.8 L148.8,372.8 Z"/>
<path d="M150.9,366.9 L154.1,366.9 L154.1,368.9 L150.9,368.9 Z"/>
<path d="M63.6,395.4 L65.3,395.4 L65.3,419.1 L63.6,419.1 Z"/>
<path d="M80.9,403.9 L83.8,403.9 L83.8,419.1 L80.9,419.1 Z"/>
<path d="M98.4,404.5 L100.3,404.5 L100.3,419.1 L98.4,419.1 Z"/>
<path d="M101.6,398.2 L103.1,398.2 L103.1,419.1 L101.6,419.1 Z"/>
<path d="M66.6,419.1 L66.6,397 L70,398.2 L70.3,392.1 L72.8,392.1 L73.1,398.2 L74.7,398.9 L75,405.8 L76.9,405.1 L78.8,404.5 L78.8,419.1 Z"/>
<path d="M77.6,391.3 L80.3,391.3 L80.3,404.6 L77.6,404.6 Z"/>
<path d="M80.6,403.2 L85.6,403.2 L85.6,405.4 L80.6,405.4 Z"/>
<path d="M85.6,393.9 L88.8,393.9 L88.8,400.9 L85.6,400.9 Z"/>
<path d="M96.6,399.5 L98.1,399.5 L98.1,404.6 L96.6,404.6 Z"/>
<path d="M87.5,400.8 L89.4,402 L92.8,403.9 L92.8,418.2 L90.9,418.2 L90.6,412.6 L89.4,412 L89.1,403.2 L87.5,402.6 Z"/>
<path d="M93.8,394 L96.2,392.1 L96.6,392.1 L96.6,399.6 L93.8,399.6 Z"/>
<path d="M103.1,396.4 L103.8,395.1 L105,395.1 L105.1,404.5 L103.1,404.5 Z"/>
<path d="M107.8,419.1 L107.8,408.2 L110,408.6 L110,419.1 Z"/>
<path d="M110,403.9 L111.2,403.9 L111.2,419.1 L110,419.1 Z"/>
<path d="M111.2,397 L112.9,397 L112.9,404 L111.2,404 Z"/>
<path d="M135,409.5 L137.8,409.5 L137.8,419.1 L135,419.1 Z"/>
<path d="M140,408.9 L142.5,408.9 L142.5,419.1 L140,419.1 Z"/>
<path d="M147.5,407.1 L150.6,407.1 L150.6,419.1 L147.5,419.1 Z"/>
<path d="M146.2,407.6 L148.1,407.6 L148.1,412.8 L146.2,412.8 Z"/>
<path d="M112.5,404 L118.8,404 L118.8,407.6 L112.5,407.6 Z"/>
<path d="M119.1,395.1 L121,395.1 L121,404 L119.1,404 Z"/>
<path d="M120.9,403.6 L122.2,403.9 L122.5,407 L123.8,407.6 L125,412 L125,418.2 L120.9,418.2 Z"/>
<path d="M127.2,398.6 L130,398.6 L130,407.8 L127.2,407.8 Z"/>
<path d="M125.9,406.9 L128.8,406.9 L128.8,408.9 L125.9,408.9 Z"/>
<path d="M130,407.6 L135,407.6 L135,410.1 L130,410.1 Z"/>
<path d="M144.4,401.8 L146,401.8 L146,407.8 L144.4,407.8 Z"/>
<path d="M152.5,403.4 L155,402 L155.4,402 L155.4,407.8 L152.5,407.8 Z"/>
<path d="M167.5,406.5 L173.8,406.5 L173.8,407.8 L167.5,407.8 Z"/>
<path d="M178.8,406.8 L191.2,406.8 L191.2,408.2 L178.8,408.2 Z"/>
<path d="M190,408.2 L218.8,408.2 L218.8,410 L190,410 Z"/>
<path d="M222.5,408.2 L260,408.2 L260,410 L222.5,410 Z"/>
<path d="M222.5,409.5 L223.8,409.5 L223.8,419.1 L222.5,419.1 Z"/>
<path d="M260,408.2 L285,408.2 L285,410 L260,410 Z"/>
<path d="M275,409 L288.8,409 L288.8,410.5 L275,410.5 Z"/>
<path d="M287.5,409.5 L301.2,409.5 L301.2,411 L287.5,411 Z"/>
<path d="M300,411 L316.5,411 L316.5,412.5 L300,412.5 Z"/>
<path d="M63.4,433.6 L65,433.6 L65,453.7 L63.4,453.7 Z"/>
<path d="M98.4,441.8 L100,441.8 L100,453.7 L98.4,453.7 Z"/>
<path d="M103.1,442.4 L105,442.4 L105,453.7 L103.1,453.7 Z"/>
<path d="M66.9,453.7 L66.9,431.8 L68.1,427.5 L70.3,427.5 L71.2,436.1 L74.4,436.5 L75.3,434.9 L76.9,436.1 L78.8,437.1 L80.6,438 L81.9,438.4 L81.9,453.7 Z"/>
<path d="M80.9,434.2 L83.4,432.4 L83.8,432.4 L83.8,438.8 L80.9,438.8 Z"/>
<path d="M85.3,453.7 L85.3,441.1 L86.9,441.8 L87.5,438 L91.2,438 L91.9,441.1 L93.1,440.5 L93.1,453.7 Z"/>
<path d="M87.5,430.2 L90,430.2 L90,438.1 L87.5,438.1 Z"/>
<path d="M93.8,430.5 L96.2,428.6 L96.6,428.6 L96.6,438.8 L93.8,438.8 Z"/>
<path d="M96.9,439.4 L100,439.4 L100,442.5 L96.9,442.5 Z"/>
<path d="M100,433.6 L102.9,433.6 L102.9,440 L100,440 Z"/>
<path d="M103.8,443 L106.2,440.5 L106.9,433 L108.1,430.5 L110,430.5 L110,438.6 L108.1,440.5 L106.2,443.6 L105,444.2 Z"/>
<path d="M130.6,446.1 L133.1,446.1 L133.1,453.7 L130.6,453.7 Z"/>
<path d="M133.4,437.1 L136.2,437.1 L136.2,443.1 L133.4,443.1 Z"/>
<path d="M140,437.1 L142.9,437.1 L142.9,442.5 L140,442.5 Z"/>
<path d="M144.4,444.9 L146,444.9 L146,453.7 L144.4,453.7 Z"/>
<path d="M110,436.4 L113.8,436.4 L113.8,439.4 L110,439.4 Z"/>
<path d="M120.6,437.1 L124.7,437.1 L124.7,441.1 L120.6,441.1 Z"/>
<path d="M113.8,441.1 L117.5,441.1 L117.5,443.6 L113.8,443.6 Z"/>
<path d="M124.4,441.1 L128.8,441.1 L128.8,443.6 L124.4,443.6 Z"/>
<path d="M146.9,439.9 L150,439.9 L150,441.8 L146.9,441.8 Z"/>
<path d="M150,443 L155,443 L155,446.2 L150,446.2 Z"/>
<path d="M160,444.2 L161.5,444.2 L161.5,453.7 L160,453.7 Z"/>
<path d="M178.1,446.8 L180.6,446.8 L180.6,453.7 L178.1,453.7 Z"/>
<path d="M182.2,445 L185,445 L185,453.7 L182.2,453.7 Z"/>
<path d="M188.1,443.8 L191.9,443.8 L191.9,453.7 L188.1,453.7 Z"/>
<path d="M191.9,448 L194.4,448 L194.4,453.7 L191.9,453.7 Z"/>
<path d="M197.5,446.8 L199.4,446.8 L199.4,453.7 L197.5,453.7 Z"/>
<path d="M200.6,448 L202.5,448 L202.5,453.7 L200.6,453.7 Z"/>
<path d="M223.8,448 L225.1,448 L225.1,453.7 L223.8,453.7 Z"/>
<path d="M230,448 L231.5,448 L231.5,453.7 L230,453.7 Z"/>
<path d="M254,449.2 L255.5,449.2 L255.5,453.7 L254,453.7 Z"/>
<path d="M208.1,453.7 L208.1,449.2 L211.2,448 L213.8,448.8 L215.6,446.8 L217.5,445.5 L218.8,448 L220.6,445.5 L222.5,446.8 L222.5,453.7 Z"/>
<path d="M63.8,470.5 L65.2,470.5 L65.2,490.4 L63.8,490.4 Z"/>
<path d="M68.2,464.8 L72.5,464.8 L72.5,490.4 L68.2,490.4 Z"/>
<path d="M85.6,470.5 L88.1,470.5 L88.1,490.4 L85.6,490.4 Z"/>
<path d="M90,472.2 L93.5,472.2 L93.5,490.4 L90,490.4 Z"/>
<path d="M94,472.2 L97.5,472.2 L97.5,490.4 L94,490.4 Z"/>
<path d="M98.8,471.8 L100,471.8 L100,490.4 L98.8,490.4 Z"/>
<path d="M76.9,468.5 L83.5,470 L83.5,476 Z"/>
<path d="M107.5,471.5 L112.5,471.5 L112.5,473.2 L107.5,473.2 Z"/>
<path d="M148.1,477.8 L150.2,477.8 L150.2,490.4 L148.1,490.4 Z"/>
<path d="M151.9,479 L153.2,479 L153.2,490.4 L151.9,490.4 Z"/>
<path d="M180,479.5 L190,479.5 L190,481.2 L180,481.2 Z"/>
<path d="M188.1,478.5 L190.6,478.5 L190.6,482.2 L188.1,482.2 Z"/>
<path d="M205.6,490.4 L205.6,484.8 L211.2,484.8 L212.5,487.8 L212.5,490.4 Z"/>
<path d="M220,482.2 L223.8,482.2 L223.8,490.4 L220,490.4 Z"/>
<path d="M224.4,486 L225.6,486 L225.6,490.4 L224.4,490.4 Z"/>
<path d="M227.5,486 L228.5,486 L228.5,490.4 L227.5,490.4 Z"/>
<path d="M245,486.8 L246.9,486.8 L246.9,490.4 L245,490.4 Z"/>
<path d="M263.1,487.2 L264.4,487.2 L264.4,490.4 L263.1,490.4 Z"/>
<path d="M266.5,486.8 L270,486.8 L270,490.4 L266.5,490.4 Z"/>
<path d="M271.2,488 L272.5,488 L272.5,490.4 L271.2,490.4 Z"/>
<path d="M287.5,486 L288.8,486 L288.8,490.4 L287.5,490.4 Z"/>
<path d="M418.4,146 L420.3,146 L420.3,153.5 L418.4,153.5 Z"/>
<path d="M420.9,154.8 L422.5,152.9 L425.3,152.2 L425.6,140.4 L428.4,140.4 L428.8,151 L430,151 L430,166 L422.8,166 L422.2,158.5 L420.9,157.2 Z"/>
<path d="M431.9,160.8 L433.2,160.8 L433.2,166.5 L431.9,166.5 Z"/>
<path d="M433.1,145.4 L436.6,145.4 L436.6,166.5 L433.1,166.5 Z"/>
<path d="M441.2,145.4 L444.4,145.4 L444.4,166.5 L441.2,166.5 Z"/>
<path d="M444.4,157.2 L447.5,157.2 L447.5,166.5 L444.4,166.5 Z"/>
<path d="M433.1,146.3 L435.6,144.8 L436.6,144.8 L436.6,146.6 L433.1,146.6 Z"/>
<path d="M441.2,146 L443.8,144.1 L444.4,144.1 L444.4,146 Z"/>
<path d="M449.1,149.9 L450.6,149.9 L450.6,166.5 L449.1,166.5 Z"/>
<path d="M450.8,144.2 L452.4,144.2 L452.4,151.6 L450.8,151.6 Z"/>
<path d="M452.5,151 L454.1,151 L454.1,166.5 L452.5,166.5 Z"/>
<path d="M449.1,149.9 L454.1,149.9 L454.1,151.6 L449.1,151.6 Z"/>
<path d="M457,163.5 L458.9,163.5 L458.9,166.5 L457,166.5 Z"/>
<path d="M458.8,146 L460.6,146 L460.6,163.5 L458.8,163.5 Z"/>
<path d="M460.3,154.1 L461.9,154.1 L461.9,166.5 L460.3,166.5 Z"/>
<path d="M464.4,156 L465,156 L465,166.5 L464.4,166.5 Z"/>
<path d="M465,156 L466.6,156 L466.6,166.5 L465,166.5 Z"/>
<path d="M466.6,147.9 L469.4,149.8 L469.4,157.9 L466.6,156.6 Z"/>
<path d="M470.3,160.1 L475,160.1 L475,163 L470.3,163 Z"/>
<path d="M473.4,157.2 L475,157.2 L475,162.9 L473.4,162.9 Z"/>
<path d="M475,147.6 L477.8,147.6 L477.8,162.2 L475,162.2 Z"/>
<path d="M470.3,162.9 L471.6,162.9 L471.6,166.5 L470.3,166.5 Z"/>
<path d="M477.8,162.2 L479.1,162.2 L479.1,166.5 L477.8,166.5 Z"/>
<path d="M481.2,160.7 L482.8,160.7 L482.8,166.5 L481.2,166.5 Z"/>
<path d="M481.4,160.7 L490,160.7 L490,162.6 L481.4,162.6 Z"/>
<path d="M483.1,151 L485.9,151 L485.9,161 L483.1,161 Z"/>
<path d="M488.8,162.2 L490,162.2 L490,166.5 L488.8,166.5 Z"/>
<path d="M483.1,151 L485.6,149.4 L485.9,149.4 L485.9,151.3 Z"/>
<path d="M491.9,156 L493.8,156 L493.8,166.5 L491.9,166.5 Z"/>
<path d="M493.8,162.2 L495,162.2 L495,166.5 L493.8,166.5 Z"/>
<path d="M498.2,162.2 L500,162.2 L500,166.5 L498.2,166.5 Z"/>
<path d="M500,154.1 L503.1,154.1 L503.1,162.2 L500,162.2 Z"/>
<path d="M502.5,162.2 L504.1,162.2 L504.1,166.5 L502.5,166.5 Z"/>
<path d="M502.5,162.2 L505,165.4 L502.5,165.4 Z"/>
<path d="M506.2,161 L508.1,161 L508.1,166.5 L506.2,166.5 Z"/>
<path d="M506.4,161 L514.4,161 L514.4,162.8 L506.4,162.8 Z"/>
<path d="M513.1,162.8 L515,162.8 L515,166.5 L513.1,166.5 Z"/>
<path d="M508.1,160.4 L508.8,156 L510,152.8 L511.2,156 L511.9,159.1 L513.1,159.8 L513.1,161 L508.1,161 Z"/>
<path d="M516.5,156.6 L520,156.6 L520,162.5 L516.5,162.5 Z"/>
<path d="M535,157.5 L538.2,157.5 L538.2,162.8 L535,162.8 Z"/>
<path d="M544.5,158.2 L547.5,158.2 L547.5,166.5 L544.5,166.5 Z"/>
<path d="M548.8,160.6 L615,160.6 L615,162.2 L548.8,162.2 Z"/>
<path d="M571,162.2 L572.5,162.2 L572.5,166.5 L571,166.5 Z"/>
<path d="M578.5,162.2 L580.2,162.2 L580.2,166.5 L578.5,166.5 Z"/>
<path d="M615,160.6 L640,160.6 L640,162.2 L615,162.2 Z"/>
<path d="M640,161.6 L653.8,161.6 L653.8,163.2 L640,163.2 Z"/>
<path d="M653.8,163.4 L674,163.4 L674,164.9 L653.8,164.9 Z"/>
<path d="M418.4,203.2 L418.4,184.2 L421.9,186.4 L422,187 L422,203.2 Z"/>
<path d="M424.1,203.2 L424.1,186.7 L426.2,188.6 L428.1,188.6 L428.1,203.2 Z"/>
<path d="M427,175.6 L429.9,175.6 L429.9,185.2 L427,185.2 Z"/>
<path d="M427.4,175.3 L428.9,175.3 L428.9,175.8 L427.4,175.8 Z"/>
<path d="M430,203.2 L430,185.4 L431.6,186.1 L431.9,188.6 L436.2,188.9 L436.2,203.2 Z"/>
<path d="M436.6,178 L439.7,178 L439.7,190.1 L436.6,190.1 Z"/>
<path d="M439.5,190.1 L440.8,190.8 L442,193.9 L444.4,193.2 L445,189.5 L445.8,188.8 L445.8,203.2 L441.2,203.2 L441.2,196.4 L439.9,195.8 Z"/>
<path d="M445.9,181.4 L448.8,179.5 L449.1,179.5 L449.1,187.6 L445.9,187.6 Z"/>
<path d="M449.1,187.4 L451,187.4 L451,203.2 L449.1,203.2 Z"/>
<path d="M455.6,182.8 L457.5,182.5 L457.6,179.5 L458.8,179.5 L458.8,190.8 L455.6,190.8 Z"/>
<path d="M455.6,190.8 L457,190.8 L457,203.2 L455.6,203.2 Z"/>
<path d="M462.5,190.1 L463.9,190.1 L463.9,203.2 L462.5,203.2 Z"/>
<path d="M457.5,203.2 L457.5,192 L460,192.6 L460.1,193.2 L460.1,203.2 Z"/>
<path d="M461.9,191.4 L462.6,191.4 L462.6,203.2 L461.9,203.2 Z"/>
<path d="M465,187.6 L467.5,185.8 L467.9,186.1 L467.9,203.2 L465,203.2 Z"/>
<path d="M467.8,197 L469.8,197 L469.8,203.2 L467.8,203.2 Z"/>
<path d="M471.2,203.2 L471.2,195.8 L472.8,195.8 L473.4,197.6 L474.4,197 L474.7,192.6 L476,192 L476,203.2 Z"/>
<path d="M476,184.2 L477.9,184.2 L477.9,189.6 L476,189.6 Z"/>
<path d="M477.5,189 L479.4,189 L479.4,203.2 L477.5,203.2 Z"/>
<path d="M484.1,192.4 L485.6,192.4 L485.6,203.2 L484.1,203.2 Z"/>
<path d="M488.8,193.9 L490.4,193.9 L490.4,203.2 L488.8,203.2 Z"/>
<path d="M485.6,184.2 L486.9,184.2 L488.8,186.4 L488.8,193.2 L485.9,192.9 Z"/>
<path d="M493.5,195.8 L495,195.8 L495,203.2 L493.5,203.2 Z"/>
<path d="M498.1,192.6 L499.8,192.6 L499.8,197.8 L498.1,197.8 Z"/>
<path d="M500,197 L501.6,197 L501.6,203.2 L500,203.2 Z"/>
<path d="M495,196.1 L495.4,186.5 L496.9,184.5 L498.1,184.5 L498.1,193.6 L495.9,193.6 Z"/>
<path d="M506.2,192.4 L508.1,192.4 L508.1,200.9 L506.2,200.9 Z"/>
<path d="M508.1,203.2 L508.1,200.8 L510,201.8 L511.2,200.8 L513.8,200.1 L515,198.9 L515,203.2 Z"/>
<path d="M515,203.2 L515,197 L517.5,193.2 L518.8,195.2 L519.4,199.5 L519.4,203.2 Z"/>
<path d="M520.6,203.2 L520.6,200.2 L523.1,198.2 L523.8,195.2 L526.2,193.2 L527.5,192.8 L528.1,199.5 L528.1,203.2 Z"/>
<path d="M529.4,200.2 L531.2,200.2 L531.2,203.2 L529.4,203.2 Z"/>
<path d="M533.1,197.8 L535.6,197.8 L535.6,203.2 L533.1,203.2 Z"/>
<path d="M536.9,197 L539.4,197 L539.4,203.2 L536.9,203.2 Z"/>
<path d="M538,194.5 L539.2,194.5 L539.2,197.6 L538,197.6 Z"/>
<path d="M540.6,199 L542,199 L542,203.2 L540.6,203.2 Z"/>
<path d="M544,194.8 L546,194.8 L546,203.2 L544,203.2 Z"/>
<path d="M546.9,203.2 L546.9,199 L548.8,197 L550.6,196.5 L552.5,199 L555,197 L557.5,199.5 L560.6,196.5 L562.5,199 L565,197 L566.2,199.5 L568.8,199 L571.2,199.5 L575,200.2 L577.5,201.5 L577.5,203.2 Z"/>
<path d="M581.2,199.8 L615,199.8 L615,201.5 L581.2,201.5 Z"/>
<path d="M615,199.8 L660,199.8 L660,201.5 L615,201.5 Z"/>
<path d="M620,198.5 L623.8,198.5 L623.8,200 L620,200 Z"/>
<path d="M632.5,198.5 L637.5,198.5 L637.5,200 L632.5,200 Z"/>
<path d="M645,198.8 L648.8,198.8 L648.8,200 L645,200 Z"/>
<path d="M418.4,218.9 L421.9,221.1 L423.8,223.6 L423.8,231.8 L422,231.8 L422,226.1 L418.4,224.9 Z"/>
<path d="M424.1,213.6 L425.3,212.4 L425.6,211.7 L426.9,211.7 L427,223.6 L424.1,223.6 Z"/>
<path d="M425,223.6 L427.2,223.6 L427.2,238.1 L425,238.1 Z"/>
<path d="M428.4,223.6 L431.4,223.6 L431.4,238.1 L428.4,238.1 Z"/>
<path d="M433.4,224.2 L435,224.2 L435,238.1 L433.4,238.1 Z"/>
<path d="M446.2,227.4 L447.9,227.4 L447.9,238.1 L446.2,238.1 Z"/>
<path d="M430,215 L432.8,213 L433.1,213 L433.1,223.8 L430,223.8 Z"/>
<path d="M435,238.1 L435,228.6 L438.1,228.6 L438.1,238.1 Z"/>
<path d="M436.6,215.6 L439.5,215.6 L439.5,227.5 L436.6,227.5 Z"/>
<path d="M442.8,214 L446,214 L446,226.9 L442.8,226.9 Z"/>
<path d="M449.1,216.8 L451,216.8 L451,238.1 L449.1,238.1 Z"/>
<path d="M440,238.1 L440,228.6 L442.5,226.8 L444.4,226.8 L444.4,238.1 Z"/>
<path d="M450,215.5 L451.6,214.2 L452.5,214.2 L452.5,224.4 L453.5,226.1 L453.5,229.2 L452.2,228.6 L451.9,224.9 L450,224.4 Z"/>
<path d="M454.1,238.1 L454.1,231.2 L455.6,230 L455.8,222.5 L456.9,222.4 L457.2,219.2 L458.8,219.2 L458.9,231.8 L460,232.4 L460,238.1 Z"/>
<path d="M461.4,226.8 L462.9,226.8 L462.9,228 L461.4,228 Z"/>
<path d="M462.9,220.8 L464.4,220.8 L464.4,222.5 L462.9,222.5 Z"/>
<path d="M464.1,216 L465,216 L465,217.4 L464.1,217.4 Z"/>
<path d="M465,216.1 L465.9,216.1 L465.9,224.2 L465,224.2 Z"/>
<path d="M466.2,228 L469.4,228 L469.4,238.1 L466.2,238.1 Z"/>
<path d="M477.2,222.5 L479.8,222.5 L479.8,238.1 L477.2,238.1 Z"/>
<path d="M482.5,224.2 L486,224.2 L486,238.1 L482.5,238.1 Z"/>
<path d="M480.9,235.2 L482.6,235.2 L482.6,238.1 L480.9,238.1 Z"/>
<path d="M486.9,233.6 L489.1,233.6 L489.1,238.1 L486.9,238.1 Z"/>
<path d="M490.6,233 L492.2,233 L492.2,238.1 L490.6,238.1 Z"/>
<path d="M493.8,231.8 L495.4,231.8 L495.4,238.1 L493.8,238.1 Z"/>
<path d="M503.1,234.2 L505,234.2 L505,238.1 L503.1,238.1 Z"/>
<path d="M506.2,233 L507.9,233 L507.9,238.1 L506.2,238.1 Z"/>
<path d="M465,223.6 L466.9,226.1 L468.1,228.6 L469.4,229.9 L469.4,231.8 L465,226.8 Z"/>
<path d="M469.8,222.4 L471.6,222.4 L471.6,228.1 L469.8,228.1 Z"/>
<path d="M471.2,228.1 L473.1,229.2 L473.5,232.4 L476.2,231.8 L476.2,234.4 L472.5,234.4 L471.9,229.9 L471.2,229.6 Z"/>
<path d="M476,219.4 L478.1,219.4 L478.1,223.1 L476,223.1 Z"/>
<path d="M489.1,224.4 L490.3,224.1 L490.5,220.8 L492.2,220.8 L492.2,233.1 L489.1,233.1 Z"/>
<path d="M495.3,231.8 L495.8,229.2 L496.6,228.6 L496.6,220.9 L498.8,220.9 L498.8,226.8 L499.8,227.4 L500.1,231.8 L502.5,233.6 L502.5,235 L499.4,234.2 L498.8,229.4 L496.9,229.8 L496.2,232.4 Z"/>
<path d="M501.9,224.4 L505,224.4 L505,234.4 L501.9,234.4 Z"/>
<path d="M507.8,232.5 L510,229.2 L511.9,227.1 L513.1,227.4 L513.2,232.4 L515,231.8 L515,234 L508.8,234 Z"/>
<path d="M515,230.5 L520,230.5 L520,233 L515,233 Z"/>
<path d="M538.8,232 L548.8,232 L548.8,233.8 L538.8,233.8 Z"/>
<path d="M565,232.5 L577.5,232.5 L577.5,234.8 L565,234.8 Z"/>
<path d="M580,233.6 L615,233.6 L615,235.4 L580,235.4 Z"/>
<path d="M615,233.6 L642.5,233.6 L642.5,235.2 L615,235.2 Z"/>
<path d="M642.5,234.5 L660,234.5 L660,236.1 L642.5,236.1 Z"/>
<path d="M660,236.1 L674,236.1 L674,237.4 L660,237.4 Z"/>
<path d="M418.2,256.2 L420.3,255.6 L421.6,254 L421.9,258.4 L423.8,259 L423.8,274.5 L422.2,274.5 L422.2,259 L418.8,258.1 Z"/>
<path d="M428.4,255.9 L430.1,255.9 L430.1,274.5 L428.4,274.5 Z"/>
<path d="M430.1,248.3 L432,248.3 L432,255.4 L430.1,255.4 Z"/>
<path d="M431.6,252.8 L433.5,252.8 L433.5,259 L431.6,259 Z"/>
<path d="M433.4,258.8 L435,258.8 L435,274.5 L433.4,274.5 Z"/>
<path d="M439.7,263.4 L441.3,263.4 L441.3,274.5 L439.7,274.5 Z"/>
<path d="M441.2,253.1 L444.1,251.2 L444.4,251.2 L444.4,262.8 L441.2,262.8 Z"/>
<path d="M443.1,274.5 L443.1,262.8 L445.6,264 L447.5,265.6 L447.8,265.9 L447.8,274.5 Z"/>
<path d="M449.1,267.1 L451.9,267.1 L451.9,274.5 L449.1,274.5 Z"/>
<path d="M452.4,260.6 L454.1,260.6 L454.1,266 L452.4,266 Z"/>
<path d="M455.6,260.9 L457.2,260.9 L457.2,274.5 L455.6,274.5 Z"/>
<path d="M460.3,265.2 L463.5,265.2 L463.5,274.5 L460.3,274.5 Z"/>
<path d="M454.1,251.2 L456.9,253.1 L456.9,261 L454.1,261 Z"/>
<path d="M465,261 L466.6,261 L466.6,274.5 L465,274.5 Z"/>
<path d="M470,265.9 L471.6,265.9 L471.6,274.5 L470,274.5 Z"/>
<path d="M473.1,267.8 L474.8,267.8 L474.8,271.6 L473.1,271.6 Z"/>
<path d="M476.2,262.1 L477.8,262.1 L477.8,272.9 L476.2,272.9 Z"/>
<path d="M466.6,252.8 L469.4,254.4 L469.8,264.6 L468.1,264.6 L467.9,259.6 L466.6,259.6 Z"/>
<path d="M474.7,271.5 L476.2,272.1 L476.9,274.5 L475.3,274.5 Z"/>
<path d="M476.2,262.8 L477.8,262.1 L478.4,259 L479.4,258.8 L479.4,254.4 L480.9,254.4 L481.1,258.8 L482.5,259 L482.9,265.9 L483.8,267.1 L484.1,274.5 L482.8,274.5 L482.5,267.1 L481.4,265.9 L481.1,260.4 L479.4,260.2 L479.1,264.6 L477.8,264.8 Z"/>
<path d="M487.2,274.5 L487.2,269.6 L489.1,268.1 L490.9,267.1 L491.2,267.2 L491.2,274.5 Z"/>
<path d="M490.6,262.5 L492.2,262.5 L492.2,267.8 L490.6,267.8 Z"/>
<path d="M492.3,254.4 L493.9,254.4 L493.9,262.8 L492.3,262.8 Z"/>
<path d="M494.1,262.5 L495.7,262.5 L495.7,269 L494.1,269 Z"/>
<path d="M495.3,269 L497.5,268.4 L499.1,267.1 L502.8,267.1 L502.8,269 L499.1,273.1 L495.3,274.5 Z"/>
<path d="M503.2,260.6 L504.9,260.6 L504.9,267.1 L503.2,267.1 Z"/>
<path d="M504.9,255.9 L506.4,255.9 L506.4,260.9 L504.9,260.9 Z"/>
<path d="M506.4,260.6 L508.1,260.6 L508.1,267.1 L506.4,267.1 Z"/>
<path d="M508.1,266.5 L511.2,269.6 L511.9,274.5 L510.3,274.5 L510,270.2 L507.5,267.8 Z"/>
<path d="M517.5,260.2 L520,260.2 L520,268.4 L517.5,268.4 Z"/>
<path d="M530.4,261 L532.9,261 L532.9,269 L530.4,269 Z"/>
<path d="M533.1,268.5 L537.5,268.5 L537.5,270.2 L533.1,270.2 Z"/>
<path d="M538.8,270.8 L562.5,270.8 L562.5,274.5 L538.8,274.5 Z"/>
<path d="M544.5,266.5 L548.5,266.5 L548.5,270.8 L544.5,270.8 Z"/>
<path d="M552.5,268.2 L555,268.2 L555,270.8 L552.5,270.8 Z"/>
<path d="M556.2,267.8 L559.4,267.8 L559.4,270.8 L556.2,270.8 Z"/>
<path d="M570,269.8 L574.4,269.8 L574.4,274.5 L570,274.5 Z"/>
<path d="M577.5,264.2 L580.2,264.2 L580.2,271 L577.5,271 Z"/>
<path d="M585,271.8 L615,271.8 L615,273.5 L585,273.5 Z"/>
<path d="M586.9,269.5 L588.5,269.5 L588.5,271.8 L586.9,271.8 Z"/>
<path d="M602,269.5 L605.5,269.5 L605.5,271.8 L602,271.8 Z"/>
<path d="M580,269 L583.8,272.1 L583.8,274.5 L580,274.5 Z"/>
<path d="M615,271.5 L650,271.5 L650,273.5 L615,273.5 Z"/>
<path d="M615.6,269.8 L616.9,269.8 L616.9,271.5 L615.6,271.5 Z"/>
<path d="M634.4,269.8 L636,269.8 L636,271.5 L634.4,271.5 Z"/>
<path d="M647.5,269.8 L649,269.8 L649,271.5 L647.5,271.5 Z"/>
<path d="M653.1,272.5 L654.4,272.5 L654.4,274.5 L653.1,274.5 Z"/>
<path d="M656.9,272.5 L658.1,272.5 L658.1,274.5 L656.9,274.5 Z"/>
<path d="M665,272.5 L666.2,272.5 L666.2,274.5 L665,274.5 Z"/>
<path d="M418.8,311.2 L418.8,285.2 L424.4,284.6 L426.8,284.2 L427.2,283.2 L428.5,283.2 L428.8,286.5 L437.5,287.8 L440,289.8 L443.1,289.8 L446.2,291.5 L450,291 L455.6,291 L458.1,292.8 L458.1,311.2 Z"/>
<path d="M457.5,292.8 L459,292.8 L459,311.2 L457.5,311.2 Z"/>
<path d="M461.9,295.5 L464.4,295.5 L464.4,311.2 L461.9,311.2 Z"/>
<path d="M465,292.9 L466.2,292.9 L466.2,311.2 L465,311.2 Z"/>
<path d="M466.6,292.9 L468.1,292.9 L468.1,311.2 L466.6,311.2 Z"/>
<path d="M475.9,296.6 L477.8,296.6 L477.8,311.2 L475.9,311.2 Z"/>
<path d="M479.4,294.4 L481,294.4 L481,311.2 L479.4,311.2 Z"/>
<path d="M486.2,296.6 L488.8,296.6 L488.8,311.2 L486.2,311.2 Z"/>
<path d="M491.9,295.9 L493.5,295.9 L493.5,311.2 L491.9,311.2 Z"/>
<path d="M505.6,300.2 L507.2,300.2 L507.2,311.2 L505.6,311.2 Z"/>
<path d="M509.4,300.2 L511,300.2 L511,311.2 L509.4,311.2 Z"/>
<path d="M496.2,297.5 L505.6,297.5 L505.6,299.6 L496.2,299.6 Z"/>
<path d="M527.5,298 L531.2,298 L531.2,301.5 L527.5,301.5 Z"/>
<path d="M535,300.8 L543.1,300.8 L543.1,302.5 L535,302.5 Z"/>
<path d="M546.2,302.2 L550,302.2 L550,304 L546.2,304 Z"/>
<path d="M581.9,305.5 L589.4,305.5 L589.4,311.2 L581.9,311.2 Z"/>
<path d="M591.2,308.2 L597.5,308.2 L597.5,311.2 L591.2,311.2 Z"/>
<path d="M600,305.8 L603,305.8 L603,311.2 L600,311.2 Z"/>
<path d="M604.2,306.2 L606,306.2 L606,311.2 L604.2,311.2 Z"/>
<path d="M609.4,306.8 L615,306.8 L615,311.2 L609.4,311.2 Z"/>
<path d="M615,307.5 L656.2,307.5 L656.2,311.2 L615,311.2 Z"/>
<path d="M616.9,305.8 L618.5,305.8 L618.5,311.2 L616.9,311.2 Z"/>
<path d="M625,304.8 L627.8,304.8 L627.8,311.2 L625,311.2 Z"/>
<path d="M627.8,306 L631.2,306 L631.2,311.2 L627.8,311.2 Z"/>
<path d="M644.8,305.2 L647.8,305.2 L647.8,311.2 L644.8,311.2 Z"/>
<path d="M649.5,306.5 L650.8,306.5 L650.8,311.2 L649.5,311.2 Z"/>
<path d="M653.2,307 L654.5,307 L654.5,311.2 L653.2,311.2 Z"/>
<path d="M418.5,319.8 L420.6,319.8 L421,326 L423.5,325.8 L423.8,346.1 L421.5,346.1 L421.2,328.5 L418.8,328.5 Z"/>
<path d="M460.2,341.8 L461.8,341.8 L461.8,346.1 L460.2,346.1 Z"/>
<path d="M471.5,340.5 L472.8,340.5 L472.8,346.1 L471.5,346.1 Z"/>
<path d="M481.2,339.8 L483.1,339.8 L483.1,346.1 L481.2,346.1 Z"/>
<path d="M487.5,339.8 L489.8,339.8 L489.8,346.1 L487.5,346.1 Z"/>
<path d="M493.1,338.5 L496.2,338.5 L496.2,346.1 L493.1,346.1 Z"/>
<path d="M499,338 L500.8,338 L500.8,346.1 L499,346.1 Z"/>
<path d="M503.1,338 L505,338 L505,346.1 L503.1,346.1 Z"/>
<path d="M506.9,336 L508.8,336 L508.8,346.1 L506.9,346.1 Z"/>
<path d="M483.1,342.9 L486.2,344.1 L486.2,346.1 L483.1,346.1 Z"/>
<path d="M508.8,335.2 L515,335.2 L515,337 L508.8,337 Z"/>
<path d="M517.8,336.8 L520.2,336.8 L520.2,346.1 L517.8,346.1 Z"/>
<path d="M527.2,337.2 L528.8,337.2 L528.8,346.1 L527.2,346.1 Z"/>
<path d="M530.6,337.2 L533.1,337.2 L533.1,344.1 L530.6,344.1 Z"/>
<path d="M518.8,335 L523.8,335 L523.8,336.8 L518.8,336.8 Z"/>
<path d="M533.8,335.2 L581.2,335.2 L581.2,337 L533.8,337 Z"/>
<path d="M543.8,337 L546.2,337 L546.2,338.2 L543.8,338.2 Z"/>
<path d="M571.2,337 L573.8,337 L573.8,338.2 L571.2,338.2 Z"/>
<path d="M578.1,336.8 L580.6,336.8 L580.6,338 L578.1,338 Z"/>
</g>
<g fill="#fff" stroke="none">
<path d="M145.2,269.3 L146.1,269.3 L146.1,271.5 L145.2,271.5 Z"/>
<path d="M146.6,268.7 L147.4,268.7 L147.4,271.5 L146.6,271.5 Z"/>
<path d="M421,287.8 L423.5,287.8 L423.5,308.8 L421,308.8 Z"/>
<path d="M425.2,284.6 L426.9,284.6 L426.9,287 L425.2,287 Z"/>
<path d="M433.8,291 L436.2,291 L436.2,308.8 L433.8,308.8 Z"/>
<path d="M439.8,292.2 L441,292.2 L441,308.8 L439.8,308.8 Z"/>
<path d="M452.6,294.8 L453.6,294.8 L453.6,308.8 L452.6,308.8 Z"/>
<path d="M465.4,294 L466,294 L466,309 L465.4,309 Z"/>
</g>
<g stroke="#1836ff" stroke-width="1.3">
<path d="M417.6,382 H674.6"/>
<path d="M417.6,416.9 H674.6"/>
<path d="M417.6,452.9 H674.6"/>
<path d="M417.6,489.6 H674.6"/>
</g>
<text x="112.7" y="503" font-size="10.4" text-anchor="middle" letter-spacing="0.75" stroke="#000" stroke-width="0.3">100</text>
<text x="162.3" y="503" font-size="10.4" text-anchor="middle" letter-spacing="0.75" stroke="#000" stroke-width="0.3">200</text>
<text x="211.8" y="503" font-size="10.4" text-anchor="middle" letter-spacing="0.75" stroke="#000" stroke-width="0.3">300</text>
<text x="261.4" y="503" font-size="10.4" text-anchor="middle" letter-spacing="0.75" stroke="#000" stroke-width="0.3">400</text>
<text x="311" y="503" font-size="10.4" text-anchor="middle" letter-spacing="0.75" stroke="#000" stroke-width="0.3">500</text>
<text x="469.6" y="503" font-size="10.4" text-anchor="middle" letter-spacing="0.75" stroke="#000" stroke-width="0.3">100</text>
<text x="519.2" y="503" font-size="10.4" text-anchor="middle" letter-spacing="0.75" stroke="#000" stroke-width="0.3">200</text>
<text x="568.7" y="503" font-size="10.4" text-anchor="middle" letter-spacing="0.75" stroke="#000" stroke-width="0.3">300</text>
<text x="618.3" y="503" font-size="10.4" text-anchor="middle" letter-spacing="0.75" stroke="#000" stroke-width="0.3">400</text>
<text x="667.9" y="503" font-size="10.4" text-anchor="middle" letter-spacing="0.75" stroke="#000" stroke-width="0.3">500</text>
<g transform="translate(0,0)"><path d="M744,164.6 L737,172 L737,176.4 L744,183" fill="none" stroke="#a8d400" stroke-width="1.5" stroke-dasharray="2 1.1"/><circle cx="739.5" cy="174.5" r="1.9" fill="#e6ff00"/><circle cx="741.8" cy="167.6" r="1.3" fill="#dcf000"/><circle cx="741.9" cy="177.9" r="1.4" fill="#dcf000"/><circle cx="737.1" cy="176.4" r="0.9" fill="#222"/><path d="M743.6,165.2 L737.6,172.2 L737.6,176.2 L743.6,182.6 Z" fill="#f2ff70" fill-opacity="0.35" stroke="none"/><path d="M744.3,163.6 V183.8" stroke="#1a2014" stroke-width="1.5" fill="none"/><path d="M744.8,164.2 L747.4,166.2 M744.8,183.3 L747.4,181.4" stroke="#3c6414" stroke-width="1.5" fill="none"/><circle cx="745.2" cy="175.8" r="0.7" fill="#2030c0"/><path d="M748.3,169.8 V177.6" stroke="#143414" stroke-width="1.7" fill="none"/><path d="M751,173.8 H755.4" stroke="#143414" stroke-width="1.5" fill="none"/><path d="M753,163.3 v1.5 M753,168.1 v1.7 M753,177.8 v1.7 M753,182.4 v1.5" stroke="#38583a" stroke-width="1.7" fill="none"/></g>
<g transform="translate(0,55.2)"><path d="M744,164.6 L737,172 L737,176.4 L744,183" fill="none" stroke="#a8d400" stroke-width="1.5" stroke-dasharray="2 1.1"/><circle cx="739.5" cy="174.5" r="1.9" fill="#e6ff00"/><circle cx="741.8" cy="167.6" r="1.3" fill="#dcf000"/><circle cx="741.9" cy="177.9" r="1.4" fill="#dcf000"/><circle cx="737.1" cy="176.4" r="0.9" fill="#222"/><path d="M743.6,165.2 L737.6,172.2 L737.6,176.2 L743.6,182.6 Z" fill="#f2ff70" fill-opacity="0.35" stroke="none"/><path d="M744.3,163.6 V183.8" stroke="#1a2014" stroke-width="1.5" fill="none"/><path d="M744.8,164.2 L747.4,166.2 M744.8,183.3 L747.4,181.4" stroke="#3c6414" stroke-width="1.5" fill="none"/><circle cx="745.2" cy="175.8" r="0.7" fill="#2030c0"/><path d="M748.3,169.8 V177.6" stroke="#143414" stroke-width="1.7" fill="none"/><path d="M751,173.8 H755.4" stroke="#143414" stroke-width="1.5" fill="none"/><path d="M753,163.3 v1.5 M753,168.1 v1.7 M753,177.8 v1.7 M753,182.4 v1.5" stroke="#38583a" stroke-width="1.7" fill="none"/></g>
<g transform="translate(0,110.5)"><path d="M744,164.6 L737,172 L737,176.4 L744,183" fill="none" stroke="#a8d400" stroke-width="1.5" stroke-dasharray="2 1.1"/><circle cx="739.5" cy="174.5" r="1.9" fill="#e6ff00"/><circle cx="741.8" cy="167.6" r="1.3" fill="#dcf000"/><circle cx="741.9" cy="177.9" r="1.4" fill="#dcf000"/><circle cx="737.1" cy="176.4" r="0.9" fill="#222"/><path d="M743.6,165.2 L737.6,172.2 L737.6,176.2 L743.6,182.6 Z" fill="#f2ff70" fill-opacity="0.35" stroke="none"/><path d="M744.3,163.6 V183.8" stroke="#1a2014" stroke-width="1.5" fill="none"/><path d="M744.8,164.2 L747.4,166.2 M744.8,183.3 L747.4,181.4" stroke="#3c6414" stroke-width="1.5" fill="none"/><circle cx="745.2" cy="175.8" r="0.7" fill="#2030c0"/><path d="M748.3,169.8 V177.6" stroke="#143414" stroke-width="1.7" fill="none"/><path d="M751,173.8 H755.4" stroke="#143414" stroke-width="1.5" fill="none"/><path d="M753,163.3 v1.5 M753,168.1 v1.7 M753,177.8 v1.7 M753,182.4 v1.5" stroke="#38583a" stroke-width="1.7" fill="none"/></g>
<g transform="translate(0,165.8)"><path d="M744,164.6 L737,172 L737,176.4 L744,183" fill="none" stroke="#a8d400" stroke-width="1.5" stroke-dasharray="2 1.1"/><circle cx="739.5" cy="174.5" r="1.9" fill="#e6ff00"/><circle cx="741.8" cy="167.6" r="1.3" fill="#dcf000"/><circle cx="741.9" cy="177.9" r="1.4" fill="#dcf000"/><circle cx="737.1" cy="176.4" r="0.9" fill="#222"/><path d="M743.6,165.2 L737.6,172.2 L737.6,176.2 L743.6,182.6 Z" fill="#f2ff70" fill-opacity="0.35" stroke="none"/><path d="M744.3,163.6 V183.8" stroke="#1a2014" stroke-width="1.5" fill="none"/><path d="M744.8,164.2 L747.4,166.2 M744.8,183.3 L747.4,181.4" stroke="#3c6414" stroke-width="1.5" fill="none"/><circle cx="745.2" cy="175.8" r="0.7" fill="#2030c0"/><path d="M748.3,169.8 V177.6" stroke="#143414" stroke-width="1.7" fill="none"/><path d="M751,173.8 H755.4" stroke="#143414" stroke-width="1.5" fill="none"/><path d="M753,163.3 v1.5 M753,168.1 v1.7 M753,177.8 v1.7 M753,182.4 v1.5" stroke="#38583a" stroke-width="1.7" fill="none"/></g>
<g transform="translate(0,221)"><path d="M744,164.6 L737,172 L737,176.4 L744,183" fill="none" stroke="#a8d400" stroke-width="1.5" stroke-dasharray="2 1.1"/><circle cx="739.5" cy="174.5" r="1.9" fill="#e6ff00"/><circle cx="741.8" cy="167.6" r="1.3" fill="#dcf000"/><circle cx="741.9" cy="177.9" r="1.4" fill="#dcf000"/><circle cx="737.1" cy="176.4" r="0.9" fill="#222"/><path d="M743.6,165.2 L737.6,172.2 L737.6,176.2 L743.6,182.6 Z" fill="#f2ff70" fill-opacity="0.35" stroke="none"/><path d="M744.3,163.6 V183.8" stroke="#1a2014" stroke-width="1.5" fill="none"/><path d="M744.8,164.2 L747.4,166.2 M744.8,183.3 L747.4,181.4" stroke="#3c6414" stroke-width="1.5" fill="none"/><circle cx="745.2" cy="175.8" r="0.7" fill="#2030c0"/><path d="M748.3,169.8 V177.6" stroke="#143414" stroke-width="1.7" fill="none"/><path d="M751,173.8 H755.4" stroke="#143414" stroke-width="1.5" fill="none"/><path d="M753,163.3 v1.5 M753,168.1 v1.7 M753,177.8 v1.7 M753,182.4 v1.5" stroke="#38583a" stroke-width="1.7" fill="none"/></g>
<g transform="translate(0,276.2)"><path d="M744,164.6 L737,172 L737,176.4 L744,183" fill="none" stroke="#a8d400" stroke-width="1.5" stroke-dasharray="2 1.1"/><circle cx="739.5" cy="174.5" r="1.9" fill="#e6ff00"/><circle cx="741.8" cy="167.6" r="1.3" fill="#dcf000"/><circle cx="741.9" cy="177.9" r="1.4" fill="#dcf000"/><circle cx="737.1" cy="176.4" r="0.9" fill="#222"/><path d="M743.6,165.2 L737.6,172.2 L737.6,176.2 L743.6,182.6 Z" fill="#f2ff70" fill-opacity="0.35" stroke="none"/><path d="M744.3,163.6 V183.8" stroke="#1a2014" stroke-width="1.5" fill="none"/><path d="M744.8,164.2 L747.4,166.2 M744.8,183.3 L747.4,181.4" stroke="#3c6414" stroke-width="1.5" fill="none"/><circle cx="745.2" cy="175.8" r="0.7" fill="#2030c0"/><path d="M748.3,169.8 V177.6" stroke="#143414" stroke-width="1.7" fill="none"/><path d="M751,173.8 H755.4" stroke="#143414" stroke-width="1.5" fill="none"/><path d="M753,163.3 v1.5 M753,168.1 v1.7 M753,177.8 v1.7 M753,182.4 v1.5" stroke="#38583a" stroke-width="1.7" fill="none"/></g>
</svg>

<div id="foot">
<div id="f1"><span style="letter-spacing:0.02px;word-spacing:2.4px;margin-left:0.2px">Onur Dikmen and Cédric Févotte</span></div>
<div id="f2"><span style="letter-spacing:0.10px;margin-left:2.5px">Maximum Marginal Likelihood Estimation For Nonnegative Dictionary Learning</span></div>
<div id="f3"><span style="letter-spacing:0.7px;word-spacing:0.5px">12 / 15</span></div>
</div>
</body>
</html>
